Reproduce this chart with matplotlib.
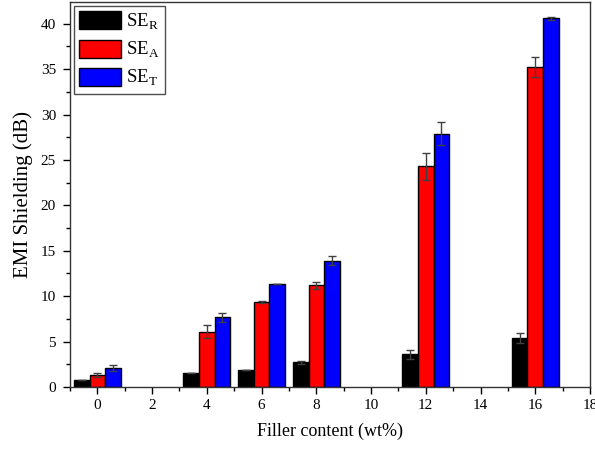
import numpy as np
import matplotlib.pyplot as plt
from matplotlib.ticker import MultipleLocator

plt.rcParams['font.family'] = ['Liberation Serif', 'DejaVu Serif']
plt.rcParams['mathtext.fontset'] = 'custom'
plt.rcParams['mathtext.rm'] = 'Liberation Serif'

# filler content (wt%) and shielding values (dB)
filler = [0, 4, 6, 8, 12, 16]
se_r = [0.8, 1.5, 1.9, 2.7, 3.6, 5.4]
se_a = [1.3, 6.1, 9.4, 11.2, 24.3, 35.2]
se_t = [2.1, 7.7, 11.3, 13.9, 27.9, 40.6]
err_r = [0.0, 0.0, 0.0, 0.2, 0.5, 0.6]
err_a = [0.2, 0.7, 0.1, 0.4, 1.5, 1.1]
err_t = [0.3, 0.5, 0.0, 0.5, 1.3, 0.2]

fig = plt.figure(figsize=(5.95, 4.5), dpi=100)
ax = fig.add_axes([70 / 595, 63 / 450, 520 / 595, 385 / 450])

x = np.array(filler, dtype=float)
w = 0.57
ekw = dict(ecolor='0.25', elinewidth=1, capsize=3, capthick=1)
ax.bar(x - w, se_r, w, yerr=err_r, color='black', edgecolor='black', lw=1,
       label=r'SE$_\mathrm{R}$', error_kw=ekw)
ax.bar(x, se_a, w, yerr=err_a, color='#ff0000', edgecolor='black', lw=1,
       label=r'SE$_\mathrm{A}$', error_kw=ekw)
ax.bar(x + w, se_t, w, yerr=err_t, color='#0000ff', edgecolor='black', lw=1,
       label=r'SE$_\mathrm{T}$', error_kw=ekw)

ax.set_xlim(-1, 18)
ax.set_ylim(0, 42.4)
ax.xaxis.set_major_locator(MultipleLocator(2))
ax.xaxis.set_minor_locator(MultipleLocator(1))
ax.yaxis.set_major_locator(MultipleLocator(5))
ax.yaxis.set_minor_locator(MultipleLocator(2.5))
ax.tick_params(which='major', direction='out', length=5, width=1, labelsize=11)
ax.tick_params(axis='y', which='major', pad=5)
ax.tick_params(which='minor', direction='out', length=3, width=1)
for s in ax.spines.values():
    s.set_linewidth(1)
    s.set_color('0.2')

ax.set_xlabel('Filler content (wt%)', fontsize=13, labelpad=8)
ax.set_ylabel('EMI Shielding (dB)', fontsize=15, labelpad=6)

leg = ax.legend(loc='upper left', fontsize=13.5, handlelength=2.2, handleheight=1.1,
                fancybox=False, edgecolor='0.3', framealpha=1, borderpad=0.3,
                borderaxespad=0.2, labelspacing=0.4, handletextpad=0.3)
leg.get_frame().set_linewidth(1)

fig.savefig('out.png', dpi=100)
